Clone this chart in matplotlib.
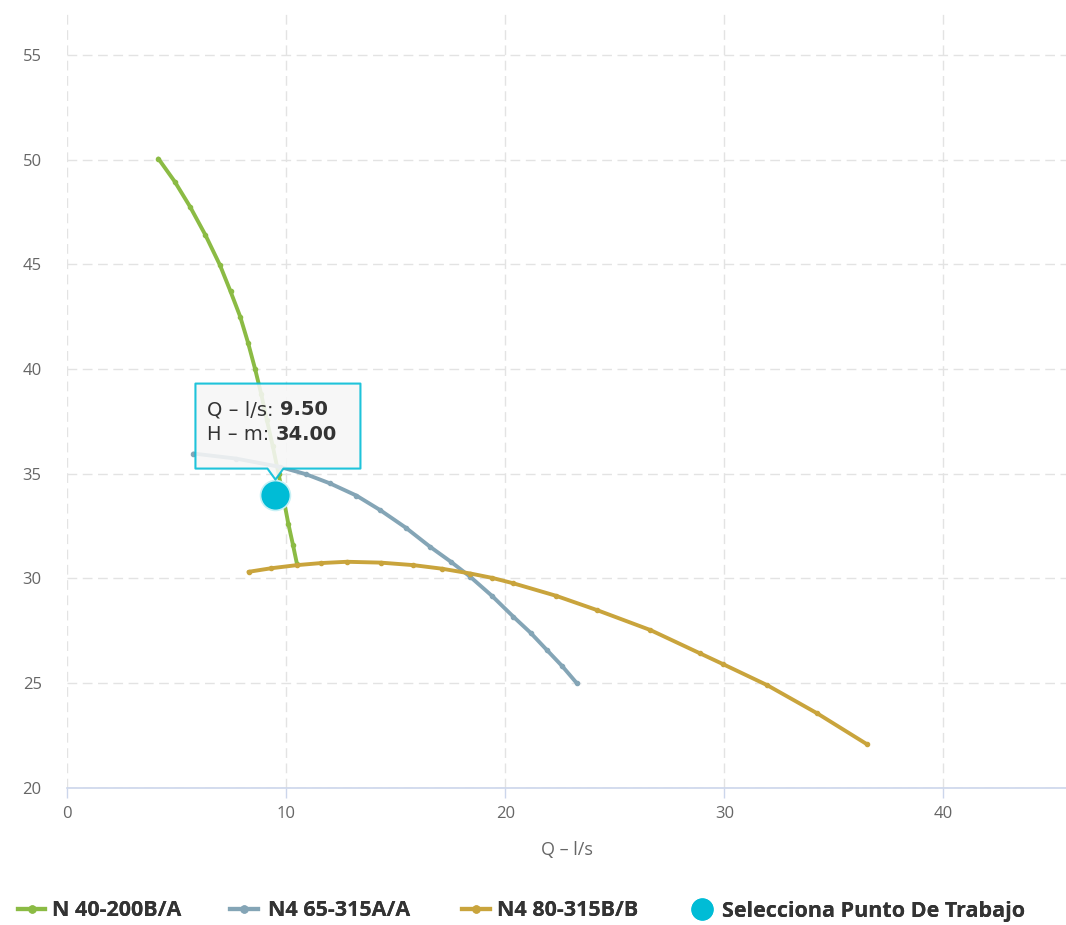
import matplotlib
matplotlib.use("Agg")
import matplotlib.pyplot as plt
from matplotlib.lines import Line2D
from matplotlib.patches import Polygon

plt.rcParams['font.family'] = ['Open Sans', 'DejaVu Sans']

# pump curves (Q in l/s, H in m)
q_n40 = [4.15, 4.9, 5.6, 6.3, 6.97, 7.45, 7.89, 8.25, 8.57, 8.85, 9.11, 9.38, 9.64,
         9.87, 10.09, 10.3, 10.48]
h_n40 = [50.05, 48.95, 47.75, 46.4, 44.95, 43.7, 42.5, 41.25, 40.0, 38.8, 37.55, 36.3,
         35.0, 33.8, 32.6, 31.6, 30.7]

q_n465 = [5.75, 7.7, 9.71, 10.9, 12.0, 13.2, 14.28, 15.45, 16.57, 17.5, 18.4, 19.4,
          20.37, 21.15, 21.9, 22.6, 23.27]
h_n465 = [35.96, 35.72, 35.32, 34.97, 34.53, 33.95, 33.26, 32.42, 31.5, 30.8, 30.07,
          29.15, 28.16, 27.4, 26.57, 25.8, 24.98]

q_n480 = [8.27, 9.3, 10.48, 11.6, 12.76, 14.3, 15.8, 17.1, 18.4, 19.4, 20.37, 22.3,
          24.19, 26.62, 28.9, 29.94, 31.95, 34.24, 36.52]
h_n480 = [30.31, 30.48, 30.63, 30.73, 30.79, 30.75, 30.63, 30.46, 30.23, 30.02, 29.76,
          29.17, 28.48, 27.53, 26.41, 25.9, 24.9, 23.55, 22.07]

series_names = ['N 40-200B/A', 'N4 65-315A/A', 'N4 80-315B/B']
series_colors = ['#8bbb44', '#84a5b6', '#c9a43c']

work_q = 9.5
work_h = 34.0
work_label = 'Selecciona Punto De Trabajo'
work_color = '#00bcd6'

x_ticks = [0, 10, 20, 30, 40]
y_ticks = [20, 25, 30, 35, 40, 45, 50, 55]

W, H = 1066, 925
fig = plt.figure(figsize=(W / 100, H / 100), dpi=100)
ax = fig.add_axes([67.4 / W, 1 - 787.7 / H, (W - 67.4) / W, (787.7 - 13) / H])

curves = [(q_n40, h_n40), (q_n465, h_n465), (q_n480, h_n480)]
for (q, h), name, color in zip(curves, series_names, series_colors):
    ax.plot(q, h, color=color, lw=2.8, marker='o', ms=3.0, mec=color, label=name,
            solid_capstyle='round', solid_joinstyle='round', zorder=3)

ax.plot([work_q], [work_h], 'o', color=work_color, ms=21.5, mec='#c6f0f5', mew=1.2,
        zorder=5)

ax.set_xlim(0, 45.6)
ax.set_ylim(20, 57.0)
ax.set_xticks(x_ticks)
ax.set_yticks(y_ticks)
ax.grid(True, color='#e3e3e3', lw=1, linestyle=(0, (7, 4)))
ax.set_axisbelow(True)
for s in ['top', 'right', 'left']:
    ax.spines[s].set_visible(False)
ax.spines['bottom'].set_color('#ccd6eb')
ax.spines['bottom'].set_linewidth(1.2)
ax.tick_params(axis='x', colors='#ccd6eb', length=7, width=1, labelcolor='#666666',
               labelsize=12, pad=6)
ax.tick_params(axis='y', length=0, labelcolor='#666666', labelsize=12, pad=18.5)
ax.set_xlabel('Q – l/s', color='#666666', fontsize=13, labelpad=14)

# tooltip box anchored to the working point (pixel offsets)
fig.canvas.draw()
renderer = fig.canvas.get_renderer()
px, py = ax.transData.transform((work_q, work_h))
box = [(-80, 26), (-80, 111), (85, 111), (85, 26), (8, 26), (0, 15), (-8, 26)]
poly = Polygon([(px + dx, py + dy) for dx, dy in box], closed=True, transform=None,
               facecolor='#f7f7f7', edgecolor=work_color, lw=1.5, alpha=0.88,
               zorder=6, joinstyle='round')
fig.add_artist(poly)

tip_font = ['DejaVu Sans']
for dy, label, value in [(85, 'Q – l/s:', '9.50'), (60, 'H – m:', '34.00')]:
    t = fig.text((px - 68) / W, (py + dy) / H, label, fontsize=14, color='#333333',
                 family=tip_font, va='center', zorder=7)
    x1 = t.get_window_extent(renderer).x1
    fig.text((x1 + 6) / W, (py + dy) / H, value, fontsize=14, color='#333333',
             family=tip_font, weight='bold', va='center', zorder=7)

# legend items placed one by one along the bottom
fs = 15.5
fs_px = fs * 100 / 72
legend_y = 1 - 911 / H
items = [(18, Line2D([], [], color=series_colors[0], lw=3, marker='o', ms=5), series_names[0], 27, 7),
         (230, Line2D([], [], color=series_colors[1], lw=3, marker='o', ms=5), series_names[1], 28, 10),
         (462, Line2D([], [], color=series_colors[2], lw=3, marker='o', ms=5), series_names[2], 28, 7),
         (692, Line2D([], [], color=work_color, lw=0, marker='o', ms=15), work_label, 20, 10)]
for x0, handle, label, hlen, gap in items:
    leg = fig.legend([handle], [label], loc='center left', bbox_to_anchor=(x0 / W, legend_y),
                     frameon=False, borderpad=0, borderaxespad=0,
                     handlelength=hlen / fs_px, handletextpad=gap / fs_px,
                     prop={'size': fs, 'weight': 'bold'}, labelcolor='#333333')
    fig.add_artist(leg)

fig.savefig('out.png', dpi=100)
